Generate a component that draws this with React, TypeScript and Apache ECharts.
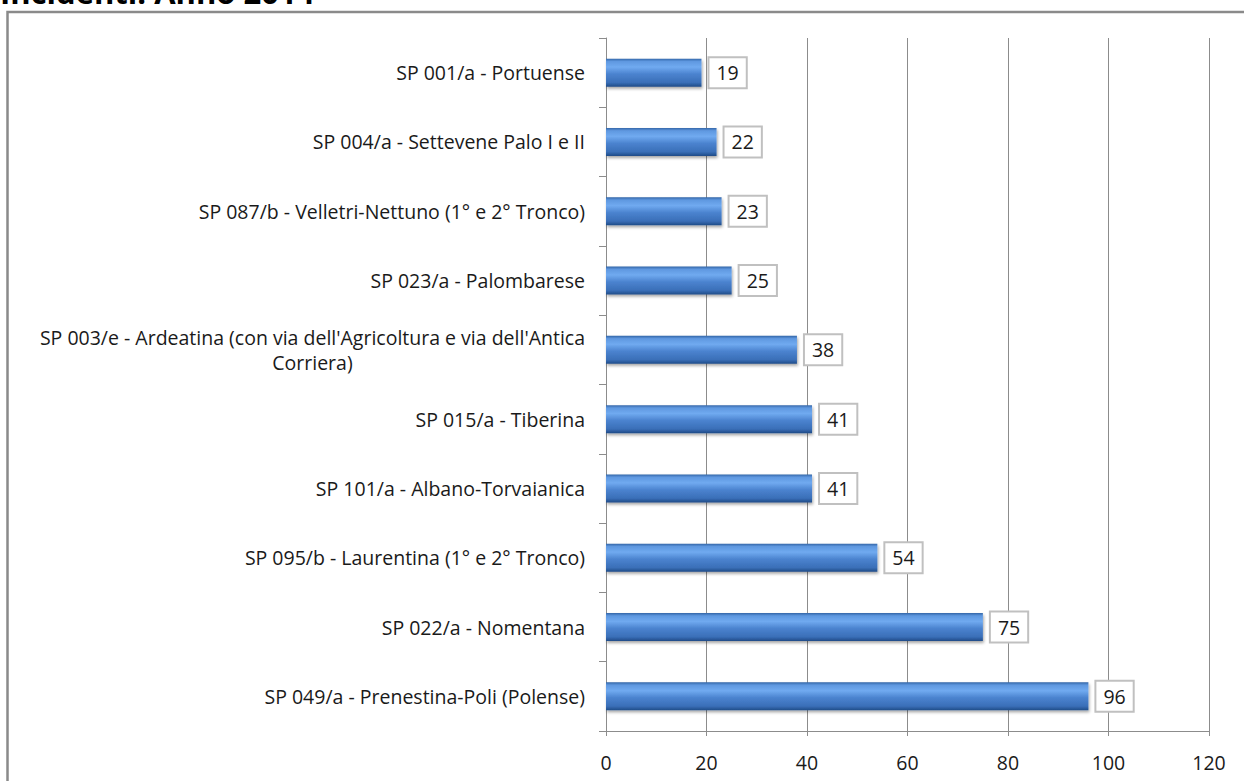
import React, { useEffect, useRef } from "react";
import * as echarts from "echarts";

const titleText = "Incidenti. Anno 2014";
const categories = [
  "SP 001/a - Portuense",
  "SP 004/a - Settevene Palo I e II",
  "SP 087/b - Velletri-Nettuno (1° e 2° Tronco)",
  "SP 023/a - Palombarese",
  "SP 003/e - Ardeatina (con via dell'Agricoltura e via dell'Antica Corriera)",
  "SP 015/a - Tiberina",
  "SP 101/a - Albano-Torvaianica",
  "SP 095/b - Laurentina (1° e 2° Tronco)",
  "SP 022/a - Nomentana",
  "SP 049/a - Prenestina-Poli (Polense)",
];
const values = [19, 22, 23, 25, 38, 41, 41, 54, 75, 96];
const axisMin = 0;
const axisMax = 120;
const axisStep = 20;

const FONT = "'Open Sans', 'Noto Sans', sans-serif";
const FS = 19.5;

export default function App() {
  const ref = useRef<HTMLDivElement>(null);
  useEffect(() => {
    document.body.style.margin = "0";
    const chart = echarts.init(ref.current!, null, { renderer: "svg" });
    chart.setOption({
      animation: false,
      backgroundColor: "#ffffff",
      textStyle: { fontFamily: FONT },
      graphic: [
        {
          type: "rect",
          shape: { x: 7.5, y: 12, width: 1260, height: 800 },
          style: { fill: "none", stroke: "#8a8a8a", lineWidth: 2.5 },
          silent: true,
        },
        {
          type: "text",
          x: 0,
          y: 7,
          style: {
            text: titleText,
            font: "bold 31px " + FONT,
            fill: "#000000",
            verticalAlign: "bottom",
          },
        },
      ],
      grid: { left: 606, right: 35, top: 38, bottom: 50, containLabel: false },
      xAxis: {
        type: "value",
        min: axisMin,
        max: axisMax,
        interval: axisStep,
        axisLine: { show: true, lineStyle: { color: "#8c8c8c", width: 1 } },
        axisTick: { show: true, length: 5, lineStyle: { color: "#8c8c8c" } },
        splitLine: { show: true, lineStyle: { color: "#8c8c8c", width: 1 } },
        axisLabel: { color: "#1a1a1a", fontSize: FS, margin: 21, fontFamily: FONT },
      },
      yAxis: {
        type: "category",
        inverse: true,
        data: categories,
        axisLine: { show: true, lineStyle: { color: "#8c8c8c", width: 1 } },
        axisTick: { show: true, length: 7, lineStyle: { color: "#8c8c8c" } },
        axisLabel: {
          color: "#1a1a1a",
          fontSize: FS,
          margin: 21,
          fontFamily: FONT,
          formatter: (v: string) =>
            v
              .replace(" Corriera)", "\nCorriera)")
              .split("\n")
              .map((l) => "{c|" + l + "}")
              .join("\n"),
          rich: {
            c: { align: "center", fontSize: FS, color: "#1a1a1a", fontFamily: FONT, lineHeight: 25 },
          },
        },
      },
      series: [
        {
          type: "bar",
          data: values,
          barWidth: 28,
          itemStyle: {
            color: new echarts.graphic.LinearGradient(0, 0, 0, 1, [
              { offset: 0, color: "#3366a8" },
              { offset: 0.1, color: "#5f98e0" },
              { offset: 0.3, color: "#70aaf0" },
              { offset: 0.55, color: "#4b83cf" },
              { offset: 0.85, color: "#3a6fb8" },
              { offset: 1, color: "#1f4b87" },
            ]),
            shadowColor: "rgba(0,0,0,0.35)",
            shadowBlur: 3,
            shadowOffsetY: 2,
            shadowOffsetX: 1,
          },
          label: {
            show: true,
            position: "right",
            distance: 8,
            color: "#1a1a1a",
            fontSize: FS,
            fontFamily: FONT,
            backgroundColor: "#ffffff",
            borderColor: "#c0c0c0",
            borderWidth: 2,
            padding: [5, 7, 4, 7],
          },
        },
      ],
    });
    return () => chart.dispose();
  }, []);
  return (
    <div
      ref={ref}
      style={{ position: "absolute", left: 0, top: 0, width: 1244, height: 781 }}
    />
  );
}
